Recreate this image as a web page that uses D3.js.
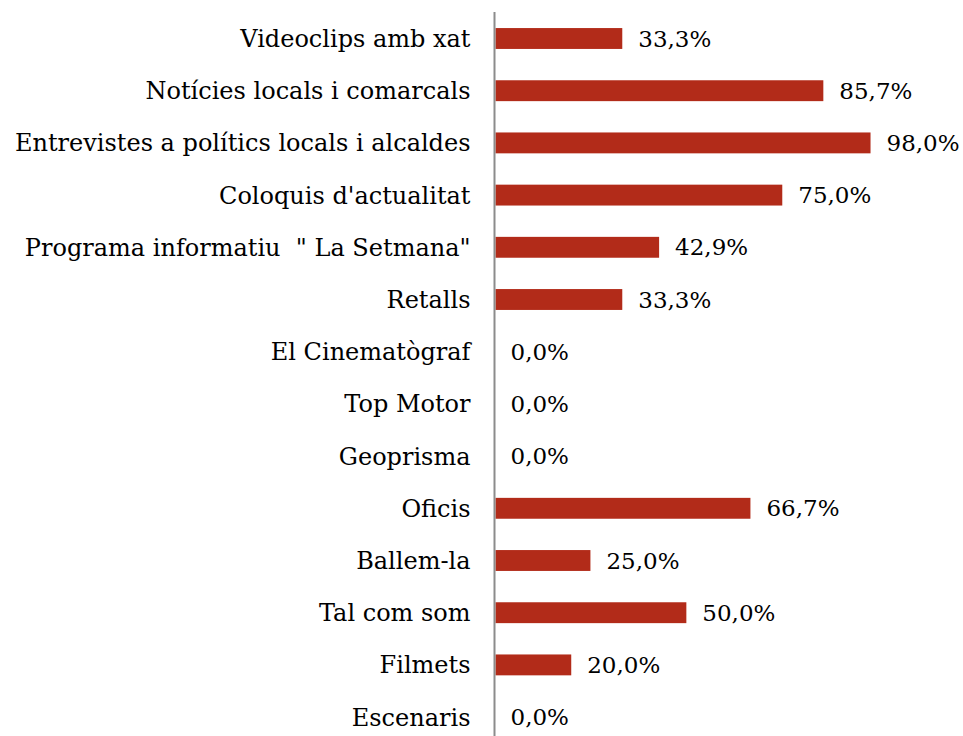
<!DOCTYPE html>
<html><head><meta charset="utf-8">
<script src="https://cdn.jsdelivr.net/npm/d3@7"></script>
<style>body{margin:0;background:#fff}</style>
</head><body>
<svg id="c" width="963" height="736"></svg>
<script>
const categories = ["Videoclips amb xat","Notícies locals i comarcals","Entrevistes a polítics locals i alcaldes","Coloquis d'actualitat","Programa informatiu  \" La Setmana\"","Retalls","El Cinematògraf","Top Motor","Geoprisma","Oficis","Ballem-la","Tal com som","Filmets","Escenaris"];
const values = [33.3,85.7,98.0,75.0,42.9,33.3,0.0,0.0,0.0,66.7,25.0,50.0,20.0,0.0];

const svg = d3.select("#c");
const x0 = 494.5;
const x = d3.scaleLinear().domain([0,100]).range([x0, x0+383.7]);
const step = 52.2;
const y = d3.scaleBand().domain(categories).range([12.4, 12.4+step*14]).paddingInner(0.6).paddingOuter(0.3);
const font = "DejaVu Serif";

svg.selectAll("rect.bar").data(categories).join("rect")
  .attr("x", x(0)+1).attr("y", d=>y(d)).attr("height", y.bandwidth())
  .attr("width", (d,i)=>Math.max(0, x(values[i])-x(0)-1))
  .attr("fill", "#b22b19");

svg.append("line").attr("x1",x0).attr("x2",x0).attr("y1",12).attr("y2",736)
  .attr("stroke","#8c8c8c").attr("stroke-width",2);

svg.selectAll("text.cat").data(categories).join("text")
  .attr("x", x0-24).attr("y", d=>y(d)+y.bandwidth()/2).attr("dy","0.35em")
  .attr("text-anchor","end").attr("font-family",font).attr("font-size",24)
  .attr("fill","#000").style("white-space","pre").text(d=>d);

svg.selectAll("text.val").data(categories).join("text")
  .attr("x", (d,i)=>x(values[i])+16).attr("y", d=>y(d)+y.bandwidth()/2).attr("dy","0.35em")
  .attr("font-family",font).attr("font-size",23).attr("fill","#000")
  .text((d,i)=>values[i].toFixed(1).replace(".",",")+"%");
</script>
</body></html>
